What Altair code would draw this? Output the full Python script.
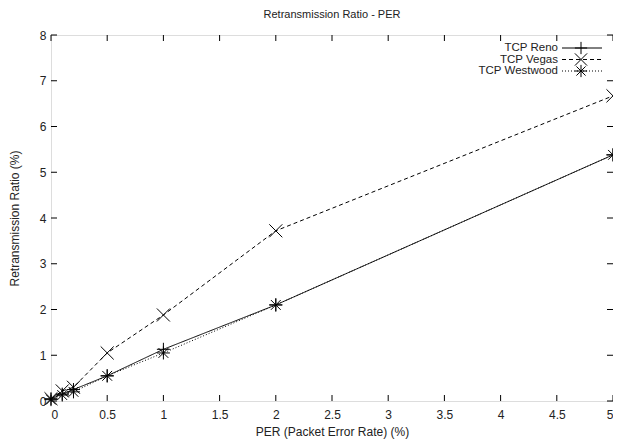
import altair as alt
import pandas as pd

per = [0, 0.1, 0.2, 0.5, 1, 2, 5]
reno = [0.05, 0.15, 0.25, 0.55, 1.13, 2.10, 5.38]
vegas = [0.05, 0.22, 0.30, 1.05, 1.88, 3.72, 6.67]
westwood = [0.03, 0.13, 0.20, 0.55, 1.05, 2.10, 5.38]
series = ["TCP Reno", "TCP Vegas", "TCP Westwood"]
x_ticks = [0, 0.5, 1, 1.5, 2, 2.5, 3, 3.5, 4, 4.5, 5]
y_ticks = [0, 1, 2, 3, 4, 5, 6, 7, 8]

PLUS = "M-1,0L1,0M0,-1L0,1"
XSHAPE = "M-1,-1L1,1M-1,1L1,-1"
STAR = "M-1,0L1,0M0,-1L0,1M-0.75,-0.75L0.75,0.75M-0.75,0.75L0.75,-0.75"
shapes = [PLUS, XSHAPE, STAR]
dashes = [[1, 0], [4, 3], [1, 2]]

rows = []
for name, vals in zip(series, [reno, vegas, westwood]):
    for x, y in zip(per, vals):
        rows.append({"per": x, "ratio": y, "series": name})
df = pd.DataFrame(rows)

W, H = 562, 366
FONT = "Liberation Sans"
TXT = "#222"

xs = alt.Scale(domain=[0, 5], nice=False, zero=False)
ys = alt.Scale(domain=[0, 8], nice=False)

X = alt.X("per:Q", scale=xs, axis=alt.Axis(
    values=x_ticks, labelExpr="'' + datum.value", tickSize=0, grid=False,
    domain=False, labelPadding=8, labelFontSize=12, labelFont=FONT, labelColor=TXT,
    title="PER (Packet Error Rate) (%)", titleFont=FONT, titleFontSize=12,
    titleFontWeight="normal", titlePadding=6, titleColor=TXT))
Y = alt.Y("ratio:Q", scale=ys, axis=alt.Axis(
    values=y_ticks, tickSize=0, grid=False, domain=False, labelPadding=5,
    labelFontSize=12, labelFont=FONT, labelColor=TXT,
    title="Retransmission Ratio (%)", titleFont=FONT, titleFontSize=12,
    titleFontWeight="normal", titlePadding=18, titleColor=TXT))

dash_scale = alt.Scale(domain=series, range=dashes)
shape_scale = alt.Scale(domain=series, range=shapes)

lines = alt.Chart(df).mark_line(color="black", strokeWidth=1).encode(
    x=X, y=Y, strokeDash=alt.StrokeDash("series:N", scale=dash_scale, legend=None),
    detail="series:N")
pts = alt.Chart(df).mark_point(filled=False, color="black", size=170, strokeWidth=1, opacity=1).encode(
    x=alt.X("per:Q", scale=xs), y=alt.Y("ratio:Q", scale=ys),
    shape=alt.Shape("series:N", scale=shape_scale, legend=None))

xt = pd.DataFrame({"v": x_ticks})
yt = pd.DataFrame({"v": y_ticks})
tx_b = alt.Chart(xt).mark_rule(color="black", strokeWidth=1).encode(
    x=alt.X("v:Q", scale=xs), y=alt.value(H), y2=alt.value(H - 6))
tx_t = alt.Chart(xt).mark_rule(color="black", strokeWidth=1).encode(
    x=alt.X("v:Q", scale=xs), y=alt.value(0), y2=alt.value(6))
ty_l = alt.Chart(yt).mark_rule(color="black", strokeWidth=1).encode(
    y=alt.Y("v:Q", scale=ys), x=alt.value(0), x2=alt.value(6))
ty_r = alt.Chart(yt).mark_rule(color="black", strokeWidth=1).encode(
    y=alt.Y("v:Q", scale=ys), x=alt.value(W), x2=alt.value(W - 6))

legend_layers = []
leg_df = pd.DataFrame({"series": series})
for i, name in enumerate(series):
    yy = 13 + 11.5 * i
    d = leg_df[leg_df.series == name]
    legend_layers.append(alt.Chart(d).mark_text(
        align="right", baseline="middle", font=FONT, fontSize=11.5, color=TXT).encode(
        text="series:N", x=alt.value(W - 55), y=alt.value(yy)))
    legend_layers.append(alt.Chart(d).mark_rule(
        color="black", strokeWidth=1, strokeDash=dashes[i]).encode(
        x=alt.value(W - 51), x2=alt.value(W - 11), y=alt.value(yy)))
    legend_layers.append(alt.Chart(d).mark_point(
        filled=False, color="black", size=150, strokeWidth=1, opacity=1, shape=shapes[i]).encode(
        x=alt.value(W - 32), y=alt.value(yy)))

chart = alt.layer(lines, pts, tx_b, tx_t, ty_l, ty_r, *legend_layers).properties(
    width=W, height=H,
    title=alt.TitleParams("Retransmission Ratio - PER", font=FONT, fontSize=11,
                          fontWeight="normal", color=TXT, offset=9, anchor="middle"),
    autosize=alt.AutoSizeParams(type="none"),
    padding={"left": 43, "top": 27, "right": 0, "bottom": 38},
).configure_view(stroke="black", strokeWidth=1).configure(background="white")

chart.save("out.html", embed_options={"renderer": "svg", "actions": False})
